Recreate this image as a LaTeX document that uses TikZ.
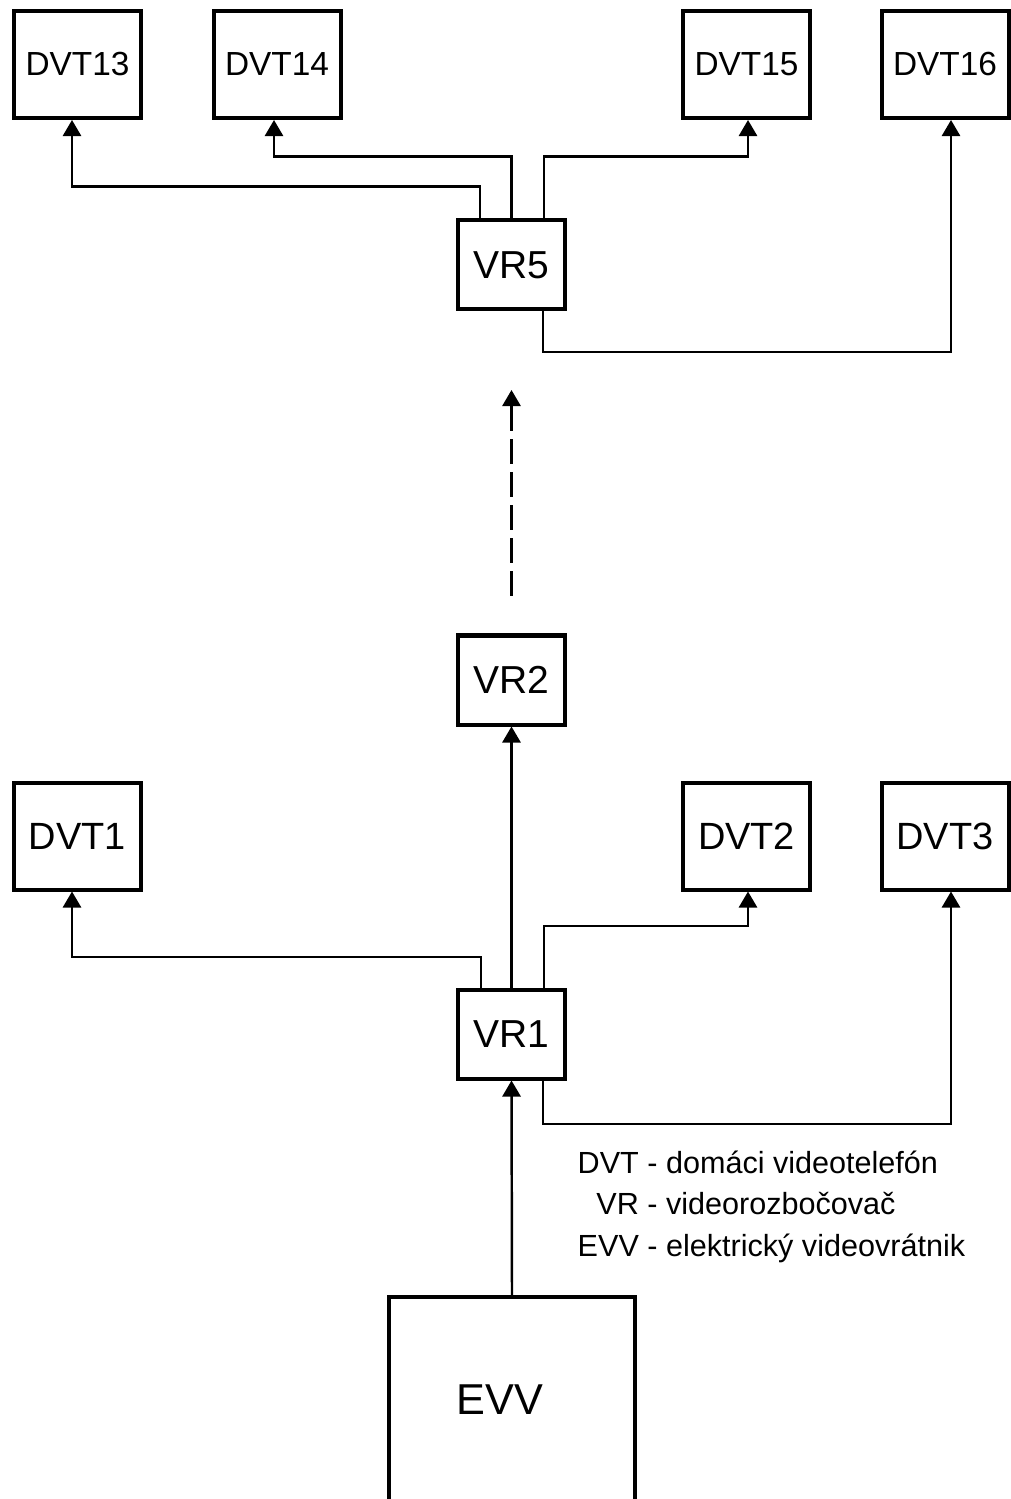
\documentclass[tikz,border=0pt]{standalone}
\usepackage{fontspec}
\setmainfont{Liberation Sans}
\usepackage{tikz}
\usetikzlibrary{arrows.meta}

\begin{document}
\begin{tikzpicture}[
  box/.style={draw, line width=1.14pt, inner sep=0pt},
  dvtsmall/.style={box, minimum width=1.27cm, minimum height=1.07cm, font=\fontsize{9.5}{11}\selectfont},
  dvtbig/.style={box, minimum width=1.27cm, minimum height=1.07cm, font=\fontsize{10.8}{12}\selectfont},
  vrbox/.style={box, minimum width=1.07cm, minimum height=0.89cm, font=\fontsize{11.1}{13}\selectfont},
  link/.style={line width=0.7pt, -{Triangle[width=5.2pt,length=4.6pt]}}
]
\useasboundingbox (0,0) rectangle (10.11,-14.99);

\foreach \n/\x in {13/0.775, 14/2.77, 15/7.465, 16/9.45} {
\node[dvtsmall] (dvt\n) at (\x,-0.645) {DVT\n};
}
\foreach \n/\x in {1/0.775, 2/7.465, 3/9.45} {
\node[dvtbig] (dvt\n) at (\x,-8.36) {DVT\n};
}

\node[vrbox] (vr5) at (5.115,-2.65) {VR5};
\node[vrbox] (vr2) at (5.115,-6.80) {VR2};
\node[vrbox] (vr1) at (5.115,-10.34) {VR1};
\node[box, minimum width=2.46cm, minimum height=2.06cm, font=\fontsize{12.3}{14}\selectfont] (evv) at (5.12,-14.0) {EVV\hspace*{0.24cm}};

\draw[link] ([xshift=-3.15mm]vr5.north) -- ++(0,0.32) -| ([xshift=-0.55mm]dvt13.south);
\draw[link] (vr5.north) -- ++(0,0.62) -| ([xshift=-0.3mm]dvt14.south);
\draw[link] ([xshift=3.25mm]vr5.north) -- ++(0,0.62) -| ([xshift=0.15mm]dvt15.south);
\draw[link] ([xshift=3.15mm]vr5.south) -- ++(0,-0.405) -| ([xshift=0.6mm]dvt16.south);

\draw[link, dash pattern=on 7.1pt off 2.3pt] ([yshift=3.75mm]vr2.north) -- ([yshift=-7.85mm]vr5.south);

\draw[link] (vr1.north) -- (vr2.south);
\draw[link] ([xshift=-3.05mm]vr1.north) -- ++(0,0.305) -| ([xshift=-0.55mm]dvt1.south);
\draw[link] ([xshift=3.25mm]vr1.north) -- ++(0,0.615) -| ([xshift=0.15mm]dvt2.south);
\draw[link] ([xshift=3.15mm]vr1.south) -- ++(0,-0.435) -| ([xshift=0.6mm]dvt3.south);
\draw[link] (evv.north) -- (vr1.south);

\node[anchor=base west, inner sep=0pt, font=\fontsize{8.7}{11.9}\selectfont] (legend) at (5.77,-11.73)
  {\begin{tabular}[t]{@{}r@{ - }l@{}}
   DVT & domáci videotelefón\\
   VR & videorozbočovač\\
   EVV & elektrický videovrátnik
   \end{tabular}};
\end{tikzpicture}
\end{document}
